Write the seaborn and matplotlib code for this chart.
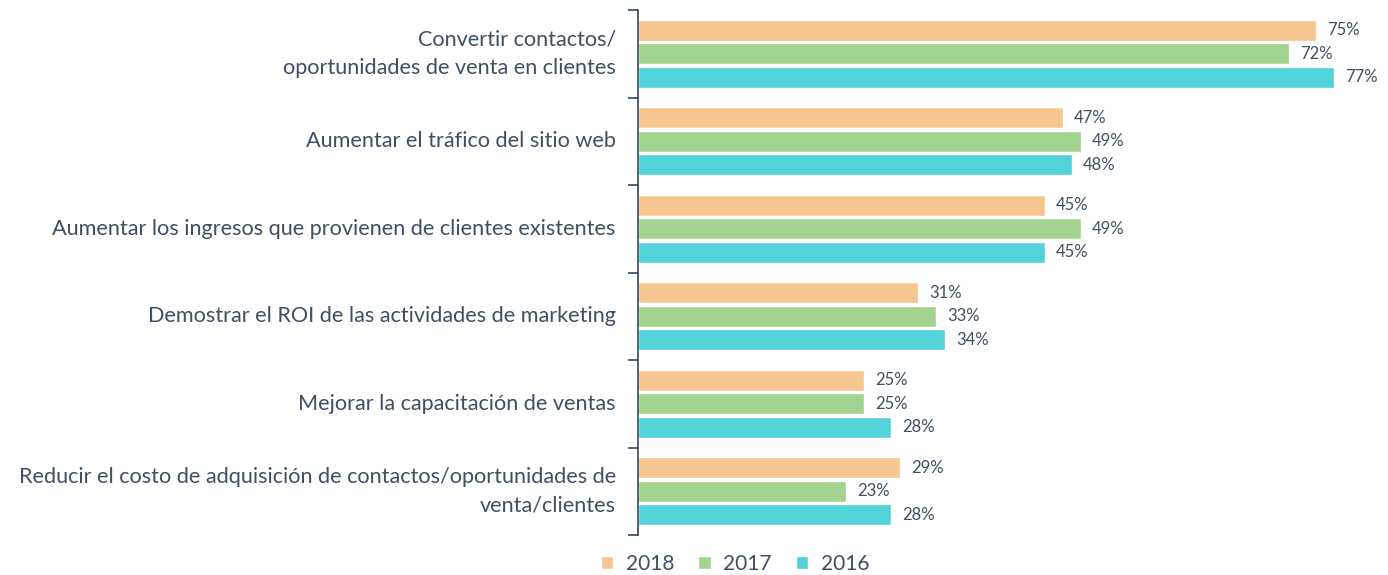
import matplotlib
matplotlib.use("Agg")
import matplotlib.pyplot as plt
import seaborn as sns
import pandas as pd
import numpy as np

categories = [
    "Convertir contactos/\noportunidades de venta en clientes",
    "Aumentar el tráfico del sitio web",
    "Aumentar los ingresos que provienen de clientes existentes",
    "Demostrar el ROI de las actividades de marketing",
    "Mejorar la capacitación de ventas",
    "Reducir el costo de adquisición de contactos/oportunidades de\nventa/clientes",
]
years = ["2018", "2017", "2016"]
values_2018 = [75, 47, 45, 31, 25, 29]
values_2017 = [72, 49, 49, 33, 25, 23]
values_2016 = [77, 48, 45, 34, 28, 28]

colors = ["#F5C68F", "#A3D48F", "#52D3D9"]
text_color = "#3E5064"
axis_color = "#33475B"

rows = []
for yr, vals in zip(years, [values_2018, values_2017, values_2016]):
    for cat, v in zip(categories, vals):
        rows.append({"Objetivo": cat, "Año": yr, "Valor": v})
df = pd.DataFrame(rows)

sns.set_theme(style="white")
plt.rcParams["font.family"] = ["Lato", "DejaVu Sans"]

fig = plt.figure(figsize=(13.88, 5.75), dpi=100)
ax = fig.add_axes([638 / 1388, 1 - 535 / 575, 1 - 638 / 1388, (535 - 10) / 575])

sns.barplot(data=df, y="Objetivo", x="Valor", hue="Año", hue_order=years,
            order=categories, palette=colors, saturation=1, orient="h",
            width=0.8, gap=0.1, legend=True, ax=ax)

for container in ax.containers:
    ax.bar_label(container, labels=[f"{int(round(b.get_width()))}%" for b in container],
                 padding=8, fontsize=12, color=text_color)

ax.set_xlim(0, 83)
ax.set_ylim(len(categories) - 0.5, -0.5)
ax.set_xlabel("")
ax.set_ylabel("")
ax.set_xticks([])

for side in ["top", "right", "bottom"]:
    ax.spines[side].set_visible(False)
ax.spines["left"].set_color(axis_color)
ax.spines["left"].set_linewidth(1.2)

ax.tick_params(axis="y", which="major", left=False, length=0, pad=16,
               labelsize=15.6, labelcolor=text_color)
ax.set_yticks(np.arange(-0.5, len(categories) + 0.5), minor=True)
ax.tick_params(axis="y", which="minor", left=True, length=7, width=1.2,
               color=axis_color, direction="out")
for lbl in ax.get_yticklabels():
    lbl.set_linespacing(1.5)
    lbl.set_horizontalalignment("right")
    lbl.set_verticalalignment("center")

ax.legend(loc="upper center", bbox_to_anchor=((735 - 638) / (1388 - 638), 0.0),
          ncol=3, frameon=False, fontsize=15, handlelength=0.6, handleheight=0.6,
          handletextpad=0.6, columnspacing=1.15, labelcolor=text_color)

fig.savefig("out.png", dpi=100)
